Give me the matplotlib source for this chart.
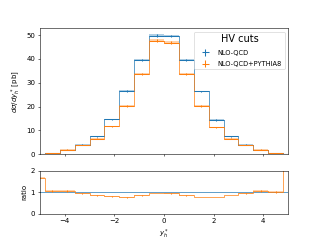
import numpy as np
import matplotlib
matplotlib.use("Agg")
import matplotlib.pyplot as plt

# bin edges in y*_h (bins of 0.6, outer ones partly cut by the x range)
edges = np.round(np.arange(-5.4, 5.41, 0.6), 2)

# d sigma / dy*_h [pb]
nlo = [0.12, 0.5, 1.9, 4.1, 7.5, 14.6, 26.6, 39.5, 49.8,
       49.5, 39.6, 26.4, 14.4, 7.6, 4.1, 1.9, 0.5, 0.08]
nlo_err = [0.01, 0.02, 0.05, 0.1, 0.15, 0.25, 0.3, 0.4, 0.5,
           0.5, 0.4, 0.3, 0.25, 0.15, 0.1, 0.05, 0.02, 0.01]
nlo_ps = [0.2, 0.53, 2.0, 3.9, 6.5, 11.7, 20.3, 33.6, 47.7,
          46.8, 33.7, 20.2, 11.3, 6.6, 3.9, 2.0, 0.5, 0.19]
nlo_ps_err = [0.005, 0.02, 0.06, 0.08, 0.15, 0.2, 0.3, 0.4, 0.5,
              0.5, 0.4, 0.3, 0.2, 0.15, 0.08, 0.06, 0.02, 0.005]

labels = ["NLO-QCD", "NLO-QCD+PYTHIA8"]
colors = ["tab:blue", "tab:orange"]

fig = plt.figure(figsize=(6.4, 4.8), dpi=50)
ax = fig.add_axes([0.125, 0.357, 0.775, 0.525])
rax = fig.add_axes([0.125, 0.11, 0.775, 0.178], sharex=ax)

centers = 0.5 * (edges[1:] + edges[:-1])
half = 0.5 * np.diff(edges)


def band(a, v, e, col):
    lo = np.append(v - e, (v - e)[-1])
    hi = np.append(v + e, (v + e)[-1])
    a.fill_between(edges, lo, hi, step='post', color=col, alpha=0.35, lw=0)


ref = np.array(nlo)
for vals, errs, lab, col in zip([nlo, nlo_ps], [nlo_err, nlo_ps_err], labels, colors):
    vals = np.array(vals)
    errs = np.array(errs)
    ax.stairs(vals, edges, color=col)
    band(ax, vals, errs, col)
    ax.errorbar(centers, vals, xerr=half, yerr=errs, fmt='none', ecolor=col, label=lab)

    r = vals / ref
    rax.stairs(r, edges, color=col)
    if col != colors[0]:
        band(rax, r, errs / ref, col)
        rax.errorbar(centers, r, yerr=errs / ref, fmt='none', ecolor=col)

ax.set_xlim(-5, 5)
ax.set_ylabel(r"$d\sigma/dy^*_h$ [pb]")
ax.tick_params(labelbottom=False)
ax.legend(title="HV cuts", loc="upper right", fontsize=9.5, title_fontsize=14,
          labelspacing=0.8, handlelength=2.6, handletextpad=0.6)

rax.set_ylim(0, 2)
rax.set_yticks([0, 1, 2])
rax.set_ylabel("ratio")
rax.set_xlabel(r"$y^*_h$")

fig.savefig("out.png", dpi=50)
